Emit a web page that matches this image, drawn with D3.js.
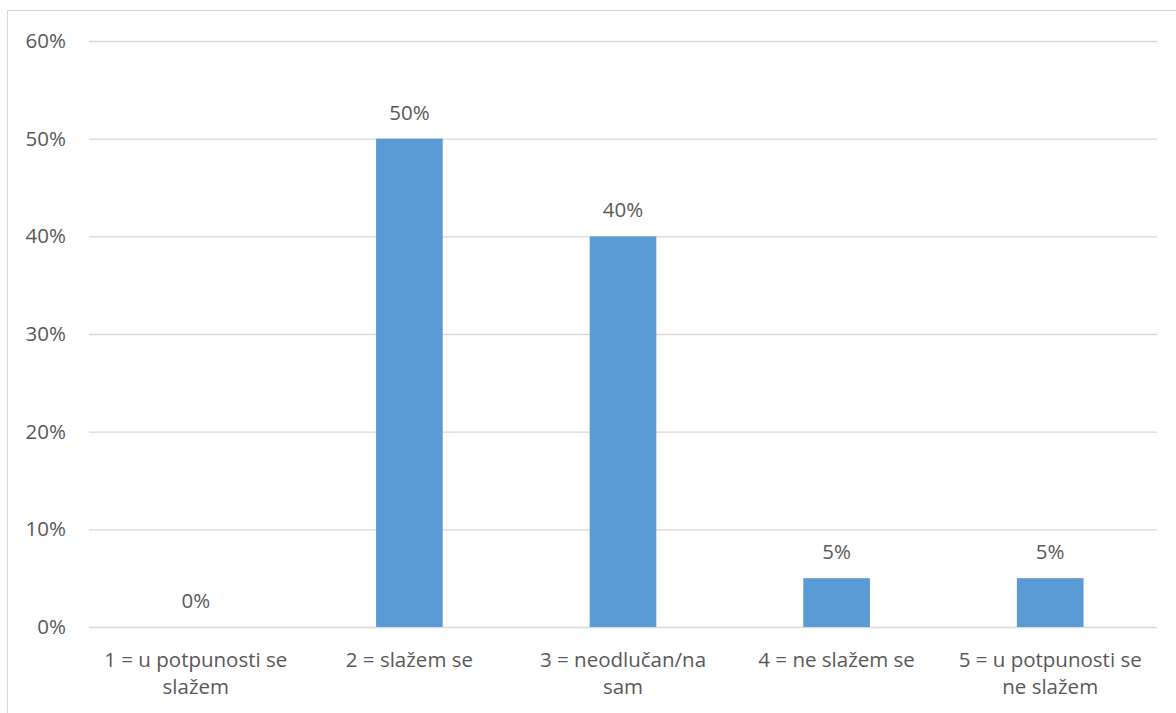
<!DOCTYPE html>
<html>
<head>
<meta charset="utf-8">
<script src="https://cdn.jsdelivr.net/npm/d3@7"></script>
<style>
  body { margin: 0; background: #fff; }
  svg { display: block; }
  svg text { font-family: "Open Sans", sans-serif; }
</style>
</head>
<body>
<div id="chart"></div>
<script>
// survey answers, share of respondents
const categories = [
  "1 = u potpunosti se\nslažem",
  "2 = slažem se",
  "3 = neodlučan/na\nsam",
  "4 = ne slažem se",
  "5 = u potpunosti se\nne slažem"
];
const values = [0, 0.50, 0.40, 0.05, 0.05];
const yTicks = [0, 0.1, 0.2, 0.3, 0.4, 0.5, 0.6];

const width = 1176, height = 713;
const margin = { top: 41, right: 19, bottom: 86, left: 89 };
const textColor = "#595959";
const fontSize = "20.5px";

const svg = d3.select("#chart").append("svg")
    .attr("width", width)
    .attr("height", height);

// chart frame (runs off the right and bottom of the picture)
svg.append("rect")
    .attr("x", 7.5).attr("y", 10.5)
    .attr("width", width + 20).attr("height", height + 20)
    .attr("fill", "none")
    .attr("stroke", "#d9d9d9");

const x = d3.scaleBand()
    .domain(categories)
    .range([margin.left, width - margin.right])
    .paddingInner(0.688)
    .paddingOuter(0.344);

const y = d3.scaleLinear()
    .domain([0, 0.6])
    .range([height - margin.bottom, margin.top]);

const pct = d3.format(".0%");

// gridlines + y labels
const yAxis = svg.append("g")
    .attr("transform", `translate(${margin.left},0)`)
    .call(d3.axisLeft(y).tickValues(yTicks).tickFormat(pct)
        .tickSize(-(width - margin.left - margin.right)).tickPadding(23));
yAxis.attr("font-family", null).attr("font-size", null);
yAxis.select(".domain").remove();
yAxis.selectAll(".tick line").attr("stroke", "#d9d9d9").attr("stroke-width", 1.3);
yAxis.selectAll(".tick text")
    .attr("fill", textColor)
    .style("font-size", fontSize);

// bars
svg.append("g")
    .selectAll("rect")
    .data(values)
    .join("rect")
    .attr("x", (d, i) => x(categories[i]))
    .attr("y", d => y(d))
    .attr("width", x.bandwidth())
    .attr("height", d => y(0) - y(d))
    .attr("fill", "#5b9bd5");

// value labels
svg.append("g")
    .selectAll("text")
    .data(values)
    .join("text")
    .attr("x", (d, i) => x(categories[i]) + x.bandwidth() / 2)
    .attr("y", d => y(d) - 19)
    .attr("text-anchor", "middle")
    .attr("fill", textColor)
    .style("font-size", fontSize)
    .text(d => pct(d));

// category labels, wrapped on \n
svg.append("g")
    .selectAll("text")
    .data(categories)
    .join("text")
    .attr("x", d => x(d) + x.bandwidth() / 2)
    .attr("y", height - margin.bottom + 40)
    .attr("text-anchor", "middle")
    .attr("fill", textColor)
    .style("font-size", fontSize)
    .each(function(d) {
        const t = d3.select(this);
        d.split("\n").forEach((line, k) => {
            t.append("tspan")
                .attr("x", x(d) + x.bandwidth() / 2)
                .attr("dy", k === 0 ? 0 : 26.5)
                .text(line);
        });
    });
</script>
</body>
</html>
